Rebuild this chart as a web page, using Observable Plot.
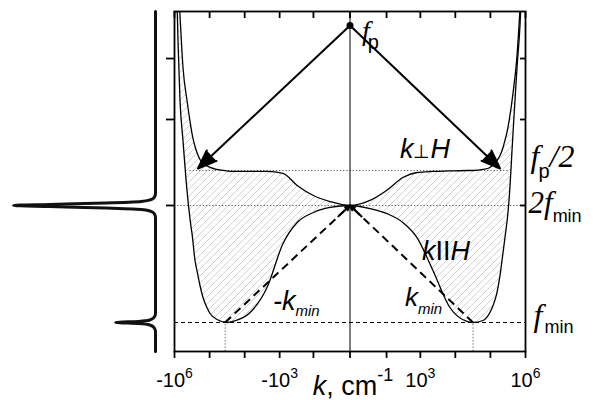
<!DOCTYPE html>
<html><head><meta charset="utf-8">
<script src="https://cdn.jsdelivr.net/npm/d3@7"></script>
<script src="https://cdn.jsdelivr.net/npm/@observablehq/plot@0.6"></script>
<style>
body{margin:0;background:#fff;}
#wrap{position:relative;width:593px;height:400px;background:#fff;}
#wrap svg{position:absolute;left:0;top:0;}
</style></head><body><div id="wrap"></div>
<script>
// ---------- data (frequency in units of f_min, k in cm^-1) ----------
const fMin = 1, f2Min = 2, fpHalf = 2.299, fp = 3.538;
const yDomain = [0.752, 3.658];
const yTicks = [3.256, 2.735, 2.0];
const xTicks = [-1e6, -1e5, -1e4, -1e3, -1e2, 0, 1e2, 1e3, 1e4, 1e5, 1e6];
const xLabelTicks = [-1e6, -1e3, 1e3, 1e6];

// |k| grid shared by both dispersion branches
const kGrid = [27, 100, 310, 800, 2300, 7000, 21500, 32000, 61500, 97000, 119000, 154000, 188000, 229000, 260000, 317000, 339000, 440000, 573000, 697000, 795000, 936000];
// k ⊥ H branch (upper)
const upperRight = [2.043, 2.128, 2.239, 2.282, 2.291, 2.295, 2.299, 2.299, 2.308, 2.325, 2.350, 2.385, 2.427, 2.496, 2.556, 2.667, 2.718, 2.957, 3.282, 3.684, 4.009, 4.265];
const upperLeft  = [2.034, 2.085, 2.171, 2.274, 2.291, 2.291, 2.291, 2.295, 2.308, 2.325, 2.338, 2.359, 2.393, 2.453, 2.504, 2.615, 2.667, 2.897, 3.179, 3.624, 3.923, 4.265];
// k || H branch (lower)
const lowerRight = [1.974, 1.932, 1.855, 1.726, 1.444, 1.128, 1.009, 1.000, 1.017, 1.085, 1.145, 1.256, 1.402, 1.598, 1.726, 1.940, 2.043, 2.615, 3.179, 3.538, 3.923, 4.265];
const lowerLeft  = [1.983, 1.940, 1.855, 1.675, 1.299, 1.085, 1.009, 1.000, 1.026, 1.077, 1.128, 1.214, 1.316, 1.444, 1.530, 1.761, 1.821, 2.128, 2.556, 2.897, 3.410, 4.265];

const kMinLeft = -36000, kMinRight = 32000;
const fpHalfSpan = 362000;
const pumpArrowK = [-214000, 188000];
const pumpArrowF = 2.316;
const headStartK = [-11.5, 11.4];
const headStartF = [1.907, 1.906];

// absorption spectrum drawn beside the axis (frequency, intensity)
const specF = [3.658, 2.103, 2.068, 2.047, 2.034, 2.021, 2.009, 2.0, 1.991, 1.979, 1.966, 1.953, 1.932, 1.897, 1.077, 1.043, 1.021, 1.009, 1.0, 0.991, 0.979, 0.957, 0.923, 0.752];
const specI = [0, 0, 0.01, 0.04, 0.1, 0.35, 0.75, 1.0, 0.75, 0.35, 0.1, 0.04, 0.01, 0, 0, 0.01, 0.04, 0.12, 0.28, 0.12, 0.04, 0.01, 0, 0];

// ---------- tables ----------
const curveRows = [
  ...kGrid.map((k, i) => ({k: -k, upper: upperLeft[i], lower: lowerLeft[i]})).reverse(),
  {k: 0, upper: f2Min, lower: f2Min},
  ...kGrid.map((k, i) => ({k, upper: upperRight[i], lower: lowerRight[i]}))
];
const pumpArrows = pumpArrowK.map(k => ({x1: 0, y1: fp, x2: k, y2: pumpArrowF}));
const kMins = [kMinLeft, kMinRight];
const dashLinks = kMins.map(k => ({x1: k, y1: fMin, x2: 0, y2: f2Min}));
const dashHeads = headStartK.map((k, i) => ({x1: k, y1: headStartF[i], x2: 0, y2: f2Min}));
const specRows = specF.map((f, i) => ({f, i: specI[i]})).sort((a, b) => a.f - b.f);

const SANS = "'Liberation Sans', Arial, sans-serif";
const SERIF = "'Liberation Serif', 'Times New Roman', serif";
const frameH = 340, frameW = 351;
const dotted = {stroke: "#555", strokeDasharray: "1.2,2", strokeWidth: 1};
const arrowStyle = {x1: "x1", y1: "y1", x2: "x2", y2: "y2", strokeWidth: 2, headLength: 15, headAngle: 42, stroke: "#000", fill: "#000"};

const main = Plot.plot({
  width: 593, height: 400,
  marginLeft: 174, marginRight: 68, marginTop: 11, marginBottom: 49,
  x: {type: "symlog", constant: 10, domain: [-1e6, 1e6], axis: null},
  y: {domain: yDomain, axis: null},
  style: {background: "transparent", fontFamily: SANS, color: "#000", overflow: "visible"},
  marks: [
    Plot.areaY(curveRows, {x: "k", y1: "lower", y2: "upper", fill: "url(#hatch)", curve: "monotone-x", clip: true}),
    Plot.ruleY([f2Min], dotted),
    Plot.ruleY([fpHalf], {...dotted, x1: -fpHalfSpan, x2: fpHalfSpan}),
    Plot.ruleY([fMin], {stroke: "#000", strokeDasharray: "4,3", strokeWidth: 1.2}),
    Plot.ruleX(kMins, {...dotted, x: d => d, y1: () => yDomain[0], y2: () => fMin}),
    Plot.ruleX([0], {stroke: "#000", strokeWidth: 1}),
    Plot.line(curveRows, {x: "k", y: "upper", curve: "monotone-x", clip: true, strokeWidth: 1.3, stroke: "#000"}),
    Plot.line(curveRows, {x: "k", y: "lower", curve: "monotone-x", clip: true, strokeWidth: 1.3, stroke: "#000"}),
    Plot.arrow(pumpArrows, arrowStyle),
    Plot.link(dashLinks, {x1: "x1", y1: "y1", x2: "x2", y2: "y2", strokeWidth: 2, strokeDasharray: "8,5", stroke: "#000"}),
    Plot.arrow(dashHeads, arrowStyle),
    Plot.dot([{k: 0, f: fp}], {x: "k", y: "f", r: 3.5, fill: "#000"}),
    // labels
    Plot.text([{k: 0, f: fp}], {x: "k", y: "f", text: () => "fp", dx: 12, dy: 14, textAnchor: "start", lineAnchor: "bottom"}),
    Plot.text([{k: 1360, f: 2.41}], {x: "k", y: "f", text: () => "k⊥H", fontSize: 27, lineAnchor: "bottom"}),
    Plot.text([{k: 5420, f: 1.53}], {x: "k", y: "f", text: () => "kIIH", fontSize: 27, lineAnchor: "bottom"}),
    Plot.text([{k: -1550, f: 1.103}], {x: "k", y: "f", text: () => "-kmin", textAnchor: "start", lineAnchor: "bottom"}),
    Plot.text([{k: 359, f: 1.145}], {x: "k", y: "f", text: () => "kmin", textAnchor: "start", lineAnchor: "bottom"}),
    Plot.text([fpHalf], {y: d => d, frameAnchor: "right", text: () => "fp/2", dx: 5, dy: -4, textAnchor: "start", lineAnchor: "bottom"}),
    Plot.text([f2Min], {y: d => d, frameAnchor: "right", text: () => "2fmin", dx: 3, dy: 8, textAnchor: "start", lineAnchor: "bottom"}),
    Plot.text([fMin], {y: d => d, frameAnchor: "right", text: () => "fmin", dx: 8, dy: 4, textAnchor: "start", lineAnchor: "bottom"}),
    Plot.text(xLabelTicks, {x: d => d, frameAnchor: "bottom", text: d => (d < 0 ? "-" : "") + "10^" + Math.round(Math.log10(Math.abs(d))), dy: 35, fontSize: 20, lineAnchor: "bottom"}),
    Plot.text(["k, cm-1"], {frameAnchor: "bottom", text: d => d, dx: 3, dy: 43, fontSize: 27, lineAnchor: "bottom"}),
    // frame and ticks
    Plot.frame({stroke: "#000", strokeWidth: 1.8}),
    Plot.ruleX(xTicks, {x: d => d, insetTop: frameH - 7, dy: 7, strokeWidth: 1.8, stroke: "#000"}),
    Plot.ruleX(xTicks, {x: d => d, insetBottom: frameH - 7, strokeWidth: 1.8, stroke: "#000"}),
    Plot.ruleY(yTicks, {y: d => d, insetRight: frameW - 8, dx: -8, strokeWidth: 1.8, stroke: "#000"}),
    Plot.ruleY(yTicks, {y: d => d, insetLeft: frameW - 5, strokeWidth: 1.8, stroke: "#000"})
  ]
});

const spec = Plot.plot({
  width: 174, height: 400, marginTop: 11, marginBottom: 49, marginLeft: 0, marginRight: 0,
  x: {domain: [0, 1], range: [155, 13], axis: null},
  y: {domain: yDomain, axis: null},
  style: {background: "transparent", overflow: "visible"},
  marks: [
    Plot.line(specRows, {x: "i", y: "f", curve: "monotone-y", strokeWidth: 3, stroke: "#111", strokeLinejoin: "round"})
  ]
});

// hatch pattern
const defs = d3.select(main).insert("defs", ":first-child");
defs.append("pattern").attr("id", "hatch").attr("patternUnits", "userSpaceOnUse")
  .attr("width", 7).attr("height", 7)
  .append("path").attr("d", "M-1,1 l2,-2 M0,7 l7,-7 M6,8 l2,-2")
  .attr("stroke", "#c4c4c4").attr("stroke-width", 0.8).attr("fill", "none");

// rich text (italics, sub/superscripts)
const rich = {
  "fp": [["f", {ff: SERIF, fs: 28, it: 1}], ["p", {fs: 20, dy: 9, dx: -2}]],
  "fp/2": [["f", {ff: SERIF, fs: 32, it: 1}], ["p", {fs: 20, dy: 11, dx: -1}], ["/2", {ff: SERIF, fs: 32, it: 1, dy: -11}]],
  "2fmin": [["2f", {ff: SERIF, fs: 31, it: 1}], ["min", {fs: 18, dy: 9}]],
  "fmin": [["f", {ff: SERIF, fs: 32, it: 1}], ["min", {fs: 18, dy: 7, dx: 2}]],
  "-kmin": [["-k", {fs: 27, it: 1}], ["min", {fs: 15, it: 1, dy: 6}]],
  "kmin": [["k", {fs: 26, it: 1}], ["min", {fs: 15, it: 1, dy: 8}]],
  "k⊥H": [["k", {it: 1}], ["⊥", {fs: 19}], ["H", {it: 1}]],
  "kIIH": [["k", {it: 1}], ["II", {}], ["H", {it: 1}]],
  "k, cm-1": [["k", {it: 1}], [", cm", {}], ["-1", {fs: 18, dy: -14}]]
};
d3.select(main).selectAll("text").each(function () {
  const key = this.textContent;
  let parts = rich[key];
  const m = key.match(/^(-?10)\^(\d+)$/);
  if (m) parts = [[m[1], {}], [m[2], {fs: 14, dy: -9}]];
  if (!parts) return;
  const t = d3.select(this);
  t.text(null);
  for (const [s, o] of parts) {
    const ts = t.append("tspan").text(s);
    if (o.ff) ts.attr("font-family", o.ff);
    if (o.fs) ts.attr("font-size", o.fs);
    if (o.it) ts.attr("font-style", "italic");
    if (o.dy) ts.attr("dy", o.dy);
    if (o.dx) ts.attr("dx", o.dx);
  }
});

const wrap = document.getElementById("wrap");
wrap.appendChild(main);
wrap.appendChild(spec);
</script></body></html>
